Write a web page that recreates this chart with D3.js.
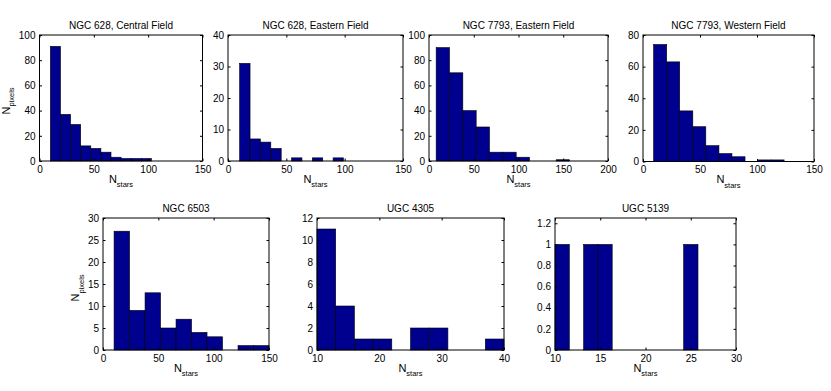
<!DOCTYPE html>
<html>
<head>
<meta charset="utf-8">
<script src="https://cdn.jsdelivr.net/npm/d3@7/dist/d3.min.js"></script>
<style>
    body { margin: 0; background: #fff; }
    text { font-family: "Liberation Sans", Arial, Helvetica, sans-serif; }
</style>
</head>
<body>
<div id="chart"></div>
<script>
// Panel titles
const titles = ["NGC 628, Central Field", "NGC 628, Eastern Field", "NGC 7793, Eastern Field",
    "NGC 7793, Western Field", "NGC 6503", "UGC 4305", "UGC 5139"];

// Histogram bin edges and counts
const edges628C = [10, 19.3, 28.6, 37.9, 47.2, 56.5, 65.8, 75.1, 84.4, 93.7, 103];
const counts628C = [91, 37, 29, 12, 10, 7, 3, 2, 2, 2];

const edges628E = [10, 18.9, 27.8, 36.7, 45.6, 54.5, 63.4, 72.3, 81.2, 90.1, 99];
const counts628E = [31, 7, 6, 4, 0, 1, 0, 1, 0, 1];

const edges7793E = [8, 22.9, 37.8, 52.7, 67.6, 82.5, 97.4, 112.3, 127.2, 142.1, 157];
const counts7793E = [90, 70, 40, 27, 7, 7, 3, 0, 0, 1];

const edges7793W = [9.3, 20.8, 32.2, 43.7, 55.1, 66.6, 78, 89.5, 100.9, 112.4, 123.8];
const counts7793W = [74, 63, 32, 22, 10, 5, 3, 0, 1, 1];

const edges6503 = [10, 24, 38, 52, 66, 80, 94, 108, 122, 136, 150];
const counts6503 = [27, 9, 13, 5, 7, 4, 3, 0, 1, 1];

const edges4305 = [10, 13, 16, 19, 22, 25, 28, 31, 34, 37, 40];
const counts4305 = [11, 4, 1, 1, 0, 2, 2, 0, 0, 1];

const edges5139 = [10, 11.58, 13.16, 14.74, 16.32, 17.9, 19.48, 21.06, 22.64, 24.22, 25.8];
const counts5139 = [1, 0, 1, 1, 0, 0, 0, 0, 0, 1];

// Axis ranges and tick labels
const xDomains = [[0, 150], [0, 150], [0, 200], [0, 150], [0, 150], [10, 40], [10, 30]];
const yDomains = [[0, 100], [0, 40], [0, 100], [0, 80], [0, 30], [0, 12], [0, 1.25]];
const xTicks = [
    [0, 50, 100, 150], [0, 50, 100, 150], [0, 50, 100, 150, 200], [0, 50, 100, 150],
    [0, 50, 100, 150], [10, 20, 30, 40], [10, 15, 20, 25, 30]
];
const yTicks = [
    [0, 20, 40, 60, 80, 100], [0, 10, 20, 30, 40], [0, 20, 40, 60, 80, 100], [0, 20, 40, 60, 80],
    [0, 5, 10, 15, 20, 25, 30], [0, 2, 4, 6, 8, 10, 12], [0, 0.2, 0.4, 0.6, 0.8, 1, 1.2]
];
const allEdges = [edges628C, edges628E, edges7793E, edges7793W, edges6503, edges4305, edges5139];
const allCounts = [counts628C, counts628E, counts7793E, counts7793W, counts6503, counts4305, counts5139];

// Axes boxes in pixels [left, right, top, bottom]
const boxes = [
    [39.5, 202.5, 35, 161], [228, 403, 35, 161], [429, 608, 35, 161], [643, 814, 35, 161.5],
    [103, 269, 218, 350], [317, 504, 218, 350], [555, 736, 218, 350]
];
// only the left panel of each row has a y label
const yLabelPos = { 0: [9.5, 101], 4: [79.3, 288] };

const width = 831, height = 391;
const barColor = "#00008f";

const svg = d3.select("#chart")
    .append("svg")
    .attr("width", width)
    .attr("height", height);

titles.forEach((title, i) => {
    const [x0, x1, y0, y1] = boxes[i];
    const xScale = d3.scaleLinear().domain(xDomains[i]).range([x0, x1]);
    const yScale = d3.scaleLinear().domain(yDomains[i]).range([y1, y0]);

    const bins = allCounts[i].map((c, k) => ({ x0: allEdges[i][k], x1: allEdges[i][k + 1], n: c }));

    const g = svg.append("g");

    // Bars
    g.selectAll("rect.bar")
        .data(bins.filter(b => b.n > 0))
        .join("rect")
        .attr("class", "bar")
        .attr("x", d => xScale(d.x0))
        .attr("width", d => xScale(d.x1) - xScale(d.x0))
        .attr("y", d => yScale(d.n))
        .attr("height", d => yScale(0) - yScale(d.n))
        .attr("fill", barColor)
        .attr("stroke", "#000")
        .attr("stroke-width", 0.6);

    const fmt = d => String(d);

    // Bottom axis (ticks pointing in)
    const bottom = g.append("g")
        .attr("transform", `translate(0,${y1})`)
        .call(d3.axisBottom(xScale).tickValues(xTicks[i]).tickFormat(fmt)
            .tickSizeInner(-2.5).tickSizeOuter(0).tickPadding(4.5));
    // Left axis
    const left = g.append("g")
        .attr("transform", `translate(${x0},0)`)
        .call(d3.axisLeft(yScale).tickValues(yTicks[i]).tickFormat(fmt)
            .tickSizeInner(-2.5).tickSizeOuter(0).tickPadding(4));
    // Top and right ticks without labels
    const top = g.append("g")
        .attr("transform", `translate(0,${y0})`)
        .call(d3.axisTop(xScale).tickValues(xTicks[i]).tickFormat("")
            .tickSizeInner(-2.5).tickSizeOuter(0));
    const right = g.append("g")
        .attr("transform", `translate(${x1},0)`)
        .call(d3.axisRight(yScale).tickValues(yTicks[i]).tickFormat("")
            .tickSizeInner(-2.5).tickSizeOuter(0));

    [bottom, left, top, right].forEach(ax => {
        ax.select(".domain").remove();
        ax.selectAll("line").attr("stroke", "#000");
        ax.selectAll("text")
            .attr("fill", "#000")
            .style("font-size", "10px")
            .style("font-family", "'Liberation Sans', Arial, sans-serif");
    });

    // Box
    g.append("rect")
        .attr("x", x0)
        .attr("y", y0)
        .attr("width", x1 - x0)
        .attr("height", y1 - y0)
        .attr("fill", "none")
        .attr("stroke", "#000")
        .attr("stroke-width", 1);

    // Title
    g.append("text")
        .attr("x", (x0 + x1) / 2)
        .attr("y", y0 - 6.5)
        .attr("text-anchor", "middle")
        .attr("font-size", 10)
        .text(title);

    // X label N_stars
    const xl = g.append("text")
        .attr("x", (x0 + x1) / 2)
        .attr("y", y1 + 21.5)
        .attr("text-anchor", "middle")
        .attr("font-size", 11);
    xl.append("tspan").text("N");
    xl.append("tspan").attr("dy", 4.5).attr("font-size", 7.5).text("stars");

    // Y label N_pixels
    if (yLabelPos[i]) {
        const [lx, ly] = yLabelPos[i];
        const yl = g.append("text")
            .attr("transform", `translate(${lx},${ly}) rotate(-90)`)
            .attr("text-anchor", "middle")
            .attr("font-size", 11);
        yl.append("tspan").text("N");
        yl.append("tspan").attr("dy", 4.5).attr("font-size", 7.5).text("pixels");
    }
});
</script>
</body>
</html>
